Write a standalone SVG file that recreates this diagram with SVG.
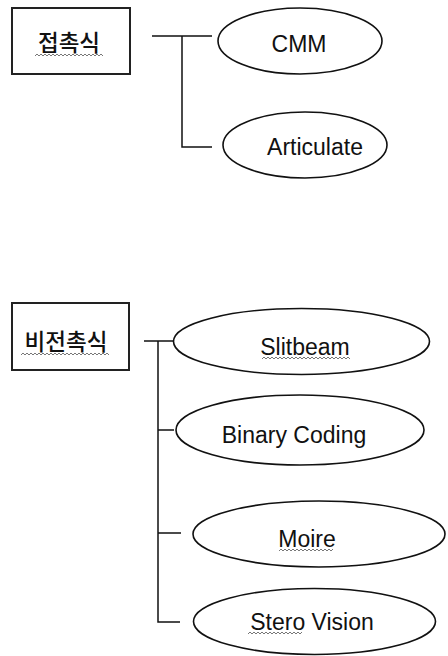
<svg xmlns="http://www.w3.org/2000/svg" width="448" height="656" viewBox="0 0 448 656">
<style>
.box{fill:#fff;stroke:#222;stroke-width:2}
.ell{fill:#fff;stroke:#111;stroke-width:1.6}
.con{fill:none;stroke:#111;stroke-width:1.5}
.ko{font-family:"Noto Sans CJK KR","Noto Sans",sans-serif;font-size:22.5px;font-weight:500;fill:#111;text-anchor:middle}
.en{font-family:"Liberation Sans",Arial,sans-serif;font-size:23px;fill:#111;text-anchor:middle}
.wave{fill:none;stroke:#777;stroke-width:1}
</style>
<rect width="448" height="656" fill="#fff"/>
<g id="connectors">
<path class="con" d="M152 36H212M182 36V147H212"/>
<path class="con" d="M144 341H173M158 341V622H180M158 430H174M158 533H181"/>
</g>
<g id="n-contact">
<rect class="box" x="12" y="8" width="118" height="66"/>
<text class="ko" x="69" y="51">접촉식</text>
<path class="wave" d="M35 56l2 -2l2 2l2 -2l2 2l2 -2l2 2l2 -2l2 2l2 -2l2 2l2 -2l2 2l2 -2l2 2l2 -2l2 2l2 -2l2 2l2 -2l2 2l2 -2l2 2l2 -2l2 2l2 -2l2 2l2 -2l2 2l2 -2l2 2l2 -2l2 2l2 -2l2 2"/>
</g>
<g id="n-cmm">
<ellipse class="ell" cx="300" cy="41" rx="82" ry="33"/>
<text class="en" x="299" y="52">CMM</text>
</g>
<g id="n-articulate">
<ellipse class="ell" cx="305" cy="145" rx="82" ry="33"/>
<text class="en" x="315" y="155">Articulate</text>
</g>
<g id="n-noncontact">
<rect class="box" x="12" y="303" width="117" height="67"/>
<text class="ko" x="66" y="350">비전촉식</text>
<path class="wave" d="M21 355l2 -2l2 2l2 -2l2 2l2 -2l2 2l2 -2l2 2l2 -2l2 2l2 -2l2 2l2 -2l2 2l2 -2l2 2l2 -2l2 2l2 -2l2 2l2 -2l2 2l2 -2l2 2l2 -2l2 2l2 -2l2 2l2 -2l2 2l2 -2l2 2l2 -2l2 2l2 -2l2 2l2 -2l2 2l2 -2l2 2l2 -2l2 2l2 -2l2 2"/>
</g>
<g id="n-slitbeam">
<ellipse class="ell" cx="301.5" cy="341.5" rx="128" ry="33"/>
<text class="en" x="305" y="355">Slitbeam</text>
<path class="wave" d="M262 359l2 -2l2 2l2 -2l2 2l2 -2l2 2l2 -2l2 2l2 -2l2 2l2 -2l2 2l2 -2l2 2l2 -2l2 2l2 -2l2 2l2 -2l2 2l2 -2l2 2l2 -2l2 2l2 -2l2 2l2 -2l2 2l2 -2l2 2l2 -2l2 2l2 -2l2 2l2 -2l2 2l2 -2l2 2l2 -2l2 2l2 -2l2 2l2 -2l2 2"/>
</g>
<g id="n-binary">
<ellipse class="ell" cx="300" cy="430" rx="124" ry="35"/>
<text class="en" x="294" y="443">Binary Coding</text>
</g>
<g id="n-moire">
<ellipse class="ell" cx="319" cy="534" rx="126" ry="33"/>
<text class="en" x="307" y="547">Moire</text>
<path class="wave" d="M279 551l2 -2l2 2l2 -2l2 2l2 -2l2 2l2 -2l2 2l2 -2l2 2l2 -2l2 2l2 -2l2 2l2 -2l2 2l2 -2l2 2l2 -2l2 2l2 -2l2 2l2 -2l2 2l2 -2l2 2l2 -2"/>
</g>
<g id="n-stereo">
<ellipse class="ell" cx="314.5" cy="621.5" rx="121" ry="33"/>
<text class="en" x="312" y="630">Stero Vision</text>
<path class="wave" d="M248 634l2 -2l2 2l2 -2l2 2l2 -2l2 2l2 -2l2 2l2 -2l2 2l2 -2l2 2l2 -2l2 2l2 -2l2 2l2 -2l2 2l2 -2l2 2l2 -2l2 2l2 -2l2 2l2 -2l2 2l2 -2"/>
</g>
</svg>
